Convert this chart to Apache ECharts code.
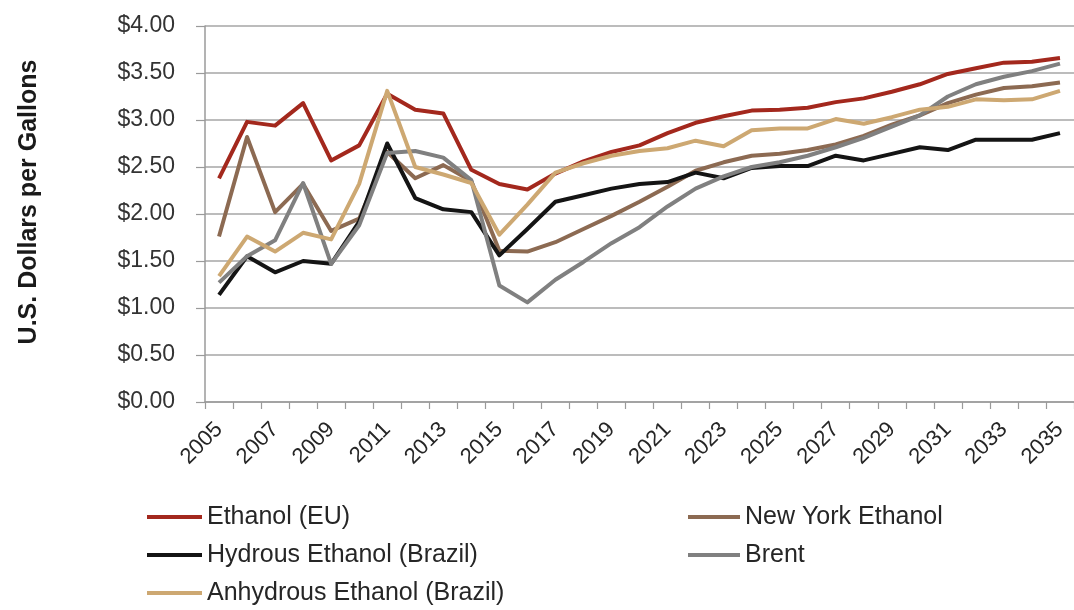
<!DOCTYPE html>
<html>
<head>
<meta charset="utf-8">
<title>Ethanol and Brent prices</title>
<script src="https://cdn.jsdelivr.net/npm/echarts@6/dist/echarts.min.js"></script>
<style>
  html, body { margin: 0; padding: 0; background: #ffffff; }
  #chart { width: 1074px; height: 610px; }
</style>
</head>
<body>
<div id="chart"></div>
<script>
// Years on the category axis
const years = [
  '2005','2006','2007','2008','2009','2010','2011','2012','2013','2014',
  '2015','2016','2017','2018','2019','2020','2021','2022','2023','2024',
  '2025','2026','2027','2028','2029','2030','2031','2032','2033','2034','2035'
];

// Prices, U.S. dollars per gallon
const ethanolEU = [
  2.38, 2.98, 2.94, 3.18, 2.57, 2.73, 3.28, 3.11, 3.07, 2.47,
  2.32, 2.26, 2.43, 2.56, 2.66, 2.73, 2.86, 2.97, 3.04, 3.10,
  3.11, 3.13, 3.19, 3.23, 3.30, 3.38, 3.49, 3.55, 3.61, 3.62, 3.66
];
const newYorkEthanol = [
  1.76, 2.82, 2.02, 2.32, 1.82, 1.95, 2.66, 2.38, 2.52, 2.35,
  1.61, 1.60, 1.70, 1.84, 1.98, 2.13, 2.29, 2.46, 2.55, 2.62,
  2.64, 2.68, 2.74, 2.83, 2.95, 3.05, 3.18, 3.27, 3.34, 3.36, 3.40
];
const hydrousBrazil = [
  1.14, 1.55, 1.38, 1.50, 1.47, 1.92, 2.75, 2.17, 2.05, 2.02,
  1.56, 1.84, 2.13, 2.20, 2.27, 2.32, 2.34, 2.44, 2.38, 2.49,
  2.51, 2.51, 2.62, 2.57, 2.64, 2.71, 2.68, 2.79, 2.79, 2.79, 2.86
];
const brent = [
  1.27, 1.55, 1.72, 2.33, 1.47, 1.88, 2.65, 2.67, 2.60, 2.36,
  1.24, 1.06, 1.30, 1.49, 1.69, 1.86, 2.08, 2.27, 2.40, 2.50,
  2.55, 2.62, 2.71, 2.81, 2.93, 3.05, 3.25, 3.38, 3.46, 3.52, 3.60
];
const anhydrousBrazil = [
  1.34, 1.76, 1.60, 1.80, 1.73, 2.32, 3.31, 2.50, 2.42, 2.33,
  1.78, 2.10, 2.44, 2.54, 2.62, 2.67, 2.70, 2.78, 2.72, 2.89,
  2.91, 2.91, 3.01, 2.96, 3.03, 3.11, 3.14, 3.22, 3.21, 3.22, 3.31
];

const seriesDefs = [
  { name: 'Ethanol (EU)', data: ethanolEU, color: '#A3281D' },
  { name: 'New York Ethanol', data: newYorkEthanol, color: '#8C6A52' },
  { name: 'Hydrous Ethanol (Brazil)', data: hydrousBrazil, color: '#141414' },
  { name: 'Brent', data: brent, color: '#808080' },
  { name: 'Anhydrous Ethanol (Brazil)', data: anhydrousBrazil, color: '#CDA872' }
];

const FONT = "'Liberation Sans', Arial, sans-serif";
const AXIS_GREY = '#9a9a9a';

const chart = echarts.init(document.getElementById('chart'), null, { renderer: 'canvas' });

const legendText = { fontFamily: FONT, fontSize: 25, color: '#262626', lineHeight: 26 };

chart.setOption({
  animation: false,
  backgroundColor: '#ffffff',
  grid: { left: 205, right: -8, top: 26, bottom: 208, containLabel: false },
  xAxis: {
    type: 'category',
    data: years,
    boundaryGap: true,
    axisLine: { show: true, lineStyle: { color: AXIS_GREY, width: 1.5 } },
    axisTick: { show: true, interval: 0, length: 7, lineStyle: { color: AXIS_GREY, width: 1.2 } },
    axisLabel: {
      interval: 1,
      rotate: 45,
      margin: 24,
      fontFamily: FONT,
      fontSize: 22,
      color: '#262626'
    },
    splitLine: { show: false }
  },
  yAxis: {
    type: 'value',
    min: 0,
    max: 4,
    interval: 0.5,
    axisLine: { show: true, lineStyle: { color: AXIS_GREY, width: 1.5 } },
    axisTick: { show: true, inside: false, length: 9, lineStyle: { color: AXIS_GREY, width: 1.2 } },
    axisLabel: {
      margin: 30,
      fontFamily: FONT,
      fontSize: 23,
      color: '#333333',
      formatter: v => '$' + v.toFixed(2)
    },
    splitLine: { show: true, lineStyle: { color: '#a6a6a6', width: 1.6 } }
  },
  legend: [
    {
      data: ['Ethanol (EU)', 'Hydrous Ethanol (Brazil)', 'Anhydrous Ethanol (Brazil)'],
      orient: 'vertical',
      left: 147,
      top: 504,
      icon: 'rect',
      itemWidth: 55,
      itemHeight: 4,
      itemGap: 12,
      padding: 0,
      textStyle: legendText
    },
    {
      data: ['New York Ethanol', 'Brent'],
      orient: 'vertical',
      left: 688,
      top: 504,
      icon: 'rect',
      itemWidth: 52,
      itemHeight: 4,
      itemGap: 12,
      padding: 0,
      textStyle: legendText
    }
  ],
  graphic: [
    {
      type: 'text',
      x: 29,
      y: 202,
      rotation: Math.PI / 2,
      style: {
        text: 'U.S. Dollars per Gallons',
        font: "bold 25px 'Liberation Sans', Arial, sans-serif",
        fill: '#1a1a1a',
        align: 'center',
        verticalAlign: 'middle'
      }
    }
  ],
  series: seriesDefs.map(s => ({
    name: s.name,
    type: 'line',
    data: s.data,
    showSymbol: false,
    symbol: 'none',
    smooth: false,
    color: s.color,
    lineStyle: { color: s.color, width: 4, join: 'round' },
    emphasis: { disabled: true }
  }))
});
</script>
</body>
</html>
